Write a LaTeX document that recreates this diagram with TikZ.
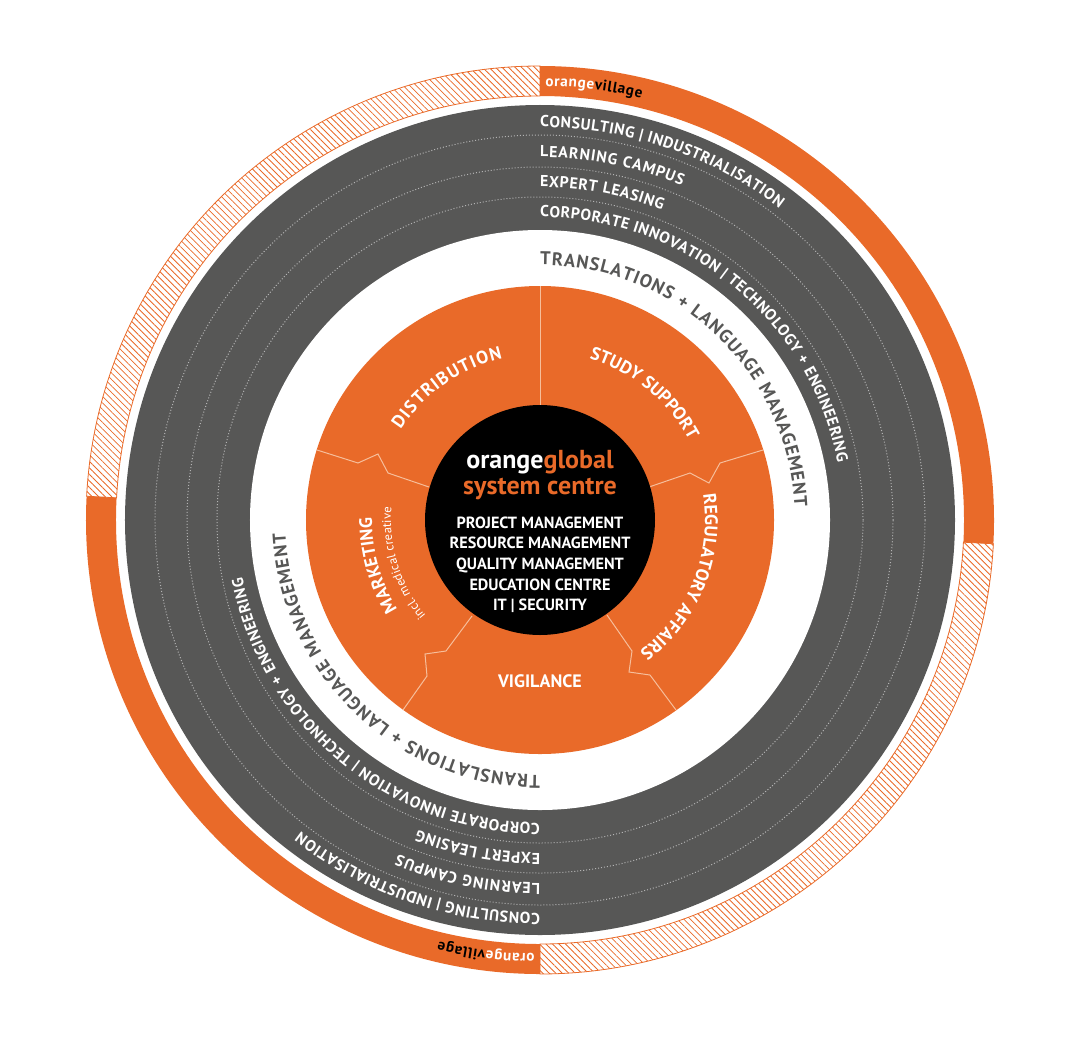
\documentclass[tikz,border=0pt]{standalone}
\usepackage{fontspec}
\setmainfont{PT Sans}
\usetikzlibrary{decorations.text,patterns.meta}
\definecolor{ovorange}{RGB}{233,106,41}
\definecolor{ovgrey}{RGB}{87,87,86}
\definecolor{ovseam}{RGB}{246,190,155}
\newcommand\bandfont{\fontsize{7.9}{9}\selectfont\bfseries}
\newcommand\segfont{\fontsize{9}{10}\selectfont\bfseries}
\newcommand\creativefont{\fontsize{6.3}{7}\selectfont}
\newcommand\villagefont{\fontsize{7.6}{8}\selectfont\bfseries}
\newcommand\listfont{\fontsize{8.1}{9}\selectfont\bfseries}
\tikzset{
  arctext/.style={decorate, decoration={text along path,
    text format delimiters={[}{]}, text align={fit to path}, text={#1}}},
  hatched/.style={draw=ovorange, line width=0.4pt,
    pattern={Lines[angle=-45,distance=2.3pt,line width=0.4pt]},
    pattern color=ovorange},
  seam/.style={draw=ovseam, line width=0.5pt},
  dotring/.style={draw=white!55!ovgrey, line width=0.5pt, densely dotted},
}

\begin{document}
\begin{tikzpicture}[x=0.5pt, y=0.5pt]
\useasboundingbox (-540,-535) rectangle (539,520);
% grey service rings
\fill[ovgrey] (0,0) circle[radius=415];
\fill[white] (0,0) circle[radius=290];
\foreach \rr in {385,353,323}
  \draw[dotring] (0,0) circle[radius=\rr];
% orange core and its seams
\fill[ovorange] (0,0) circle[radius=234];
\draw[seam] (0,115) -- (0,234);
\draw[seam] (109,33) -- (150,47) -- (169,37) -- (180,57) -- (223,70);
\draw[seam] (-111,33) -- (-152,47) -- (-162,66) -- (-182,57) -- (-223,70);
\draw[seam] (-68,-96) -- (-94,-131) -- (-115,-134) -- (-113,-156) -- (-137,-190);
\draw[seam] (67,-95) -- (92,-131) -- (89,-152) -- (110,-155) -- (136,-190);
\fill[black] (0,0) circle[radius=115];
% centre
\node[font=\fontsize{13}{13}\selectfont\bfseries, text=white, anchor=base]
  (brand) at (0,52) {orange\textcolor{ovorange}{global}};
\node[font=\fontsize{13}{13}\selectfont\bfseries, text=ovorange, anchor=base]
  (hub) at (0,26) {system centre};
\foreach \duty [count=\i] in {PROJECT MANAGEMENT, RESOURCE MANAGEMENT,
    QUALITY MANAGEMENT, EDUCATION CENTRE, IT | SECURITY}
  \node[font=\listfont, text=white, anchor=base] (duty\i) at (0,{-8-20.7*(\i-1)}) {\duty};
% segments
\path[arctext={[\segfont\color{white}]DISTRIBUTION}]
  (147:166) arc[start angle=147, end angle=103, radius=166];
\path[arctext={[\segfont\color{white}]STUDY SUPPORT}]
  (73:169) arc[start angle=73, end angle=29, radius=169];
\path[arctext={[\segfont\color{white}]REGULATORY AFFAIRS}]
  (9:165) arc[start angle=9, end angle=-53, radius=165];
\path[arctext={[\segfont\color{white}]MARKETING}]
  (212:168) arc[start angle=212, end angle=179, radius=168];
\path[arctext={[\creativefont\color{white}]incl. medical creative}]
  (220:149) arc[start angle=220, end angle=175, radius=149];
\node[font=\segfont, text=white] (vigilance) at (0,-161) {VIGILANCE};
% village ring and band labels, twice
\foreach \turn in {0,180} {
\begin{scope}[rotate=\turn]
  \fill[ovorange] (90:454) arc[start angle=90, end angle=-3, radius=454]
    -- (-3:424) arc[start angle=-3, end angle=90, radius=424] -- cycle;
  \path[hatched] (-3:454) arc[start angle=-3, end angle=-90, radius=454]
    -- (-90:424) arc[start angle=-90, end angle=-3, radius=424] -- cycle;
  \path[arctext={[\villagefont\color{white}]orange[\villagefont\color{black}]village}]
    (89.3:434) arc[start angle=89.3, end angle=76.5, radius=434];
  \path[arctext={[\bandfont\color{white}]CONSULTING | INDUSTRIALISATION}]
    (90:393) arc[start angle=90, end angle=52.5, radius=393];
  \path[arctext={[\bandfont\color{white}]LEARNING CAMPUS}]
    (90:363) arc[start angle=90, end angle=67, radius=363];
  \path[arctext={[\bandfont\color{white}]EXPERT LEASING}]
    (90:333) arc[start angle=90, end angle=68.5, radius=333];
  \path[arctext={[\bandfont\color{white}]CORPORATE INNOVATION | TECHNOLOGY + ENGINEERING}]
    (90:303) arc[start angle=90, end angle=11, radius=303];
  \path[arctext={[\fontsize{9.2}{10}\selectfont\bfseries\color{ovgrey}]TRANSLATIONS + LANGUAGE MANAGEMENT}]
    (90:255) arc[start angle=90, end angle=3, radius=255];
\end{scope}
}
\end{tikzpicture}
\end{document}
